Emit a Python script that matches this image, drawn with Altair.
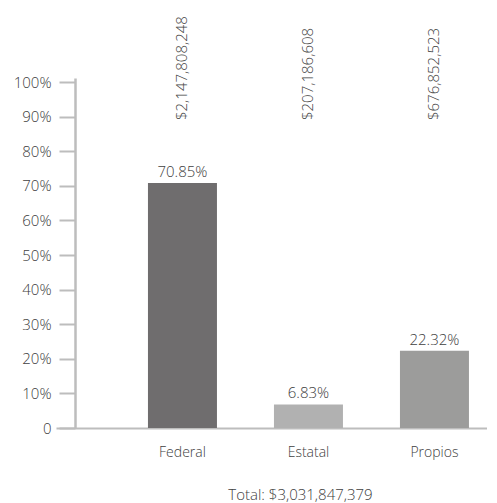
import altair as alt
import pandas as pd

categories = ["Federal", "Estatal", "Propios"]
shares = [0.7085, 0.0683, 0.2232]
pct_labels = ["70.85%", "6.83%", "22.32%"]
amount_labels = ["$2,147,808,248", "$207,186,608", "$676,852,523"]
bar_colors = ["#6f6d6e", "#b1b1b1", "#9c9c9b"]
y_ticks = [0, 0.1, 0.2, 0.3, 0.4, 0.5, 0.6, 0.7, 0.8, 0.9, 1.0]
total_label = "Total: $3,031,847,379"

df = pd.DataFrame({
    "cat": categories,
    "share": shares,
    "pct": pct_labels,
    "amount": amount_labels,
})

FONT = "Open Sans"
TXT = "#404040"
AX = "#bdbdbd"

x_scale = alt.Scale(paddingInner=0.4524, paddingOuter=0.4365, align=0.836)
y_scale = alt.Scale(domain=[0, 1.012], nice=False)

x_axis = alt.Axis(
    title=total_label,
    titleFont=FONT, titleFontSize=15, titleFontWeight=300, titleColor=TXT,
    titleX=244, titleAlign="center", titlePadding=28,
    labelFont=FONT, labelFontSize=14, labelFontWeight=300, labelColor=TXT, labelPadding=17,
    ticks=False, domainColor=AX, domainWidth=2, labelAngle=0,
)
y_axis = alt.Axis(
    title=None,
    values=y_ticks,
    labelOverlap=False,
    labelExpr="datum.value == 0 ? '0' : format(datum.value, '.0%')",
    labelFont=FONT, labelFontSize=15, labelFontWeight=300, labelColor=TXT, labelPadding=8,
    tickSize=16, tickWidth=2, tickColor=AX,
    domainColor=AX, domainWidth=2.5, offset=-19, grid=False,
)

x_enc = alt.X("cat:N", sort=categories, scale=x_scale, axis=x_axis)
y_enc = alt.Y("share:Q", scale=y_scale, axis=y_axis)

bars = alt.Chart(df).mark_bar().encode(
    x=x_enc,
    y=y_enc,
    color=alt.Color("cat:N", scale=alt.Scale(domain=categories, range=bar_colors), legend=None),
)

pct_text = alt.Chart(df).mark_text(
    font=FONT, fontSize=15, fontWeight=300, color=TXT, baseline="alphabetic", dy=-6
).encode(
    x=x_enc,
    y=y_enc,
    text="pct:N",
)

amount_text = alt.Chart(df).mark_text(
    font=FONT, fontSize=15, fontWeight=300, color=TXT, angle=270, align="left", baseline="middle"
).encode(
    x=x_enc,
    y=alt.value(42),
    text="amount:N",
)

chart = (bars + pct_text + amount_text).properties(
    width=431, height=350,
    padding={"left": 5, "top": 8, "right": 0, "bottom": 0},
).configure_view(stroke=None)

chart.save("out.html", embed_options={"renderer": "svg", "actions": False})
